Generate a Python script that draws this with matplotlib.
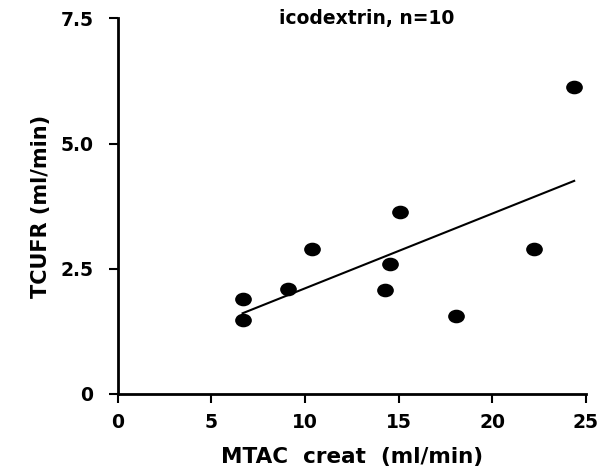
import numpy as np
import matplotlib
matplotlib.use("Agg")
import matplotlib.pyplot as plt
from matplotlib.path import Path
from matplotlib.transforms import Affine2D

# values
mtac_creat = [6.67, 6.67, 9.09, 10.39, 14.29, 14.52, 15.09, 18.08, 22.24, 24.37]
tcufr = [1.90, 1.48, 2.10, 2.89, 2.08, 2.60, 3.63, 1.56, 2.90, 6.14]
x_ticks = [0, 5, 10, 15, 20, 25]
y_ticks = [0, 2.5, 5.0, 7.5]
y_ticklabels = ["0", "2.5", "5.0", "7.5"]

plt.rcParams['font.family'] = 'DejaVu Sans'
plt.rcParams['font.weight'] = 'bold'

fig = plt.figure(figsize=(6.02, 4.72), dpi=100)
ax = fig.add_axes([0.1955, 0.1653, 0.7779, 0.7957])

# slightly flattened dots, like the original print
dot = Path.unit_circle().transformed(Affine2D().scale(1.25, 1.0))
ax.plot(mtac_creat, tcufr, linestyle='none', marker=dot, markersize=11,
        color='black', clip_on=False)

# least squares line over the data range
slope, icpt = np.polyfit(mtac_creat, tcufr, 1)
xs = np.array([min(mtac_creat), max(mtac_creat)])
ax.plot(xs, slope * xs + icpt, color='black', linewidth=1.5)

ax.set_xlim(0, 25)
ax.set_ylim(0, 7.5)
ax.set_xticks(x_ticks)
ax.set_yticks(y_ticks)
ax.set_yticklabels(y_ticklabels)

for side in ['top', 'right']:
    ax.spines[side].set_visible(False)
for side in ['left', 'bottom']:
    ax.spines[side].set_linewidth(2)

ax.tick_params(axis='both', direction='out', length=6.5, width=1.5,
               labelsize=13.5)
ax.tick_params(axis='y', pad=11)
ax.tick_params(axis='x', pad=7)

ax.set_xlabel('MTAC  creat  (ml/min)', fontsize=15.5, fontweight='bold', labelpad=11)
ax.set_ylabel('TCUFR (ml/min)', fontsize=15, fontweight='bold', labelpad=7)

ax.text(0.531, 1.0, 'icodextrin, n=10', transform=ax.transAxes,
        ha='center', va='center', fontsize=13.5, fontweight='bold')

fig.savefig('out.png', dpi=100)
